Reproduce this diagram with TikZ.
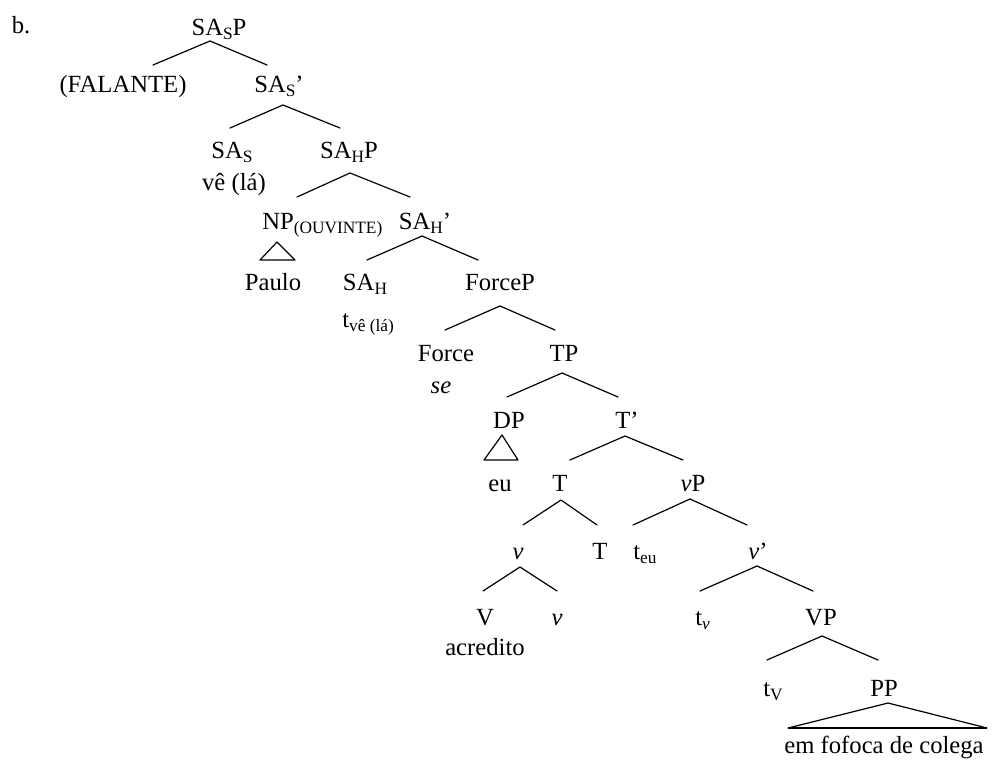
\documentclass[tikz,border=0pt]{standalone}
\usepackage{fontspec}
\setmainfont{Liberation Serif}
\newcommand{\sbs}[1]{\raisebox{-3pt}{\fontsize{13}{13}\selectfont #1}}
\begin{document}
\begin{tikzpicture}[x=0.75pt,y=-0.75pt,
  lab/.style={inner sep=0pt, anchor=base, font=\fontsize{18.5}{22}\selectfont},
  labw/.style={lab, anchor=base west},
  br/.style={line width=0.9pt, line cap=round, line join=round}]
\useasboundingbox (0,0) rectangle (992,760);
% labels
\node[lab] (b) at (21,33) {b.};
\node[lab] (SAsP) at (219,35) {SA\sbs{S}P};
\node[lab] (FAL) at (123,92) {(FALANTE)};
\node[lab] (SAsb) at (279,92) {SA\sbs{S}'};
\node[lab] (SAs) at (232,158) {SA\sbs{S}};
\node[lab] (ve) at (234,190) {vê (lá)};
\node[lab] (SAHP) at (349,158) {SA\sbs{H}P};
\node[labw] (NP) at (262,229) {NP\sbs{(OUVINTE)}};
\node[lab] (Paulo) at (273,290) {Paulo};
\node[lab] (SAHb) at (425,229) {SA\sbs{H}'};
\node[lab] (SAH) at (365,290) {SA\sbs{H}};
\node[labw] (tve) at (342,327) {t\sbs{vê (lá)}};
\node[lab] (ForceP) at (500,290) {ForceP};
\node[lab] (Force) at (446,361) {Force};
\node[lab] (se) at (441,393) {\textit{se}};
\node[lab] (TP) at (564,361) {TP};
\node[lab] (DP) at (509,428) {DP};
\node[lab] (eu) at (500,491) {eu};
\node[lab] (Tb) at (627,428) {T'};
\node[lab] (T) at (560,491) {T};
\node[lab] (vP) at (693,491) {\textit{v}P};
\node[lab] (v) at (518,559) {\textit{v}};
\node[lab] (T2) at (600,559) {T};
\node[labw] (teu) at (633,559) {t\sbs{eu}};
\node[lab] (vb) at (758,559) {\textit{v}'};
\node[lab] (V) at (485,625) {V};
\node[lab] (v2) at (557,625) {\textit{v}};
\node[lab] (acr) at (485,655) {acredito};
\node[labw] (tv) at (695,625) {t\sbs{\textit{v}}};
\node[lab] (VP) at (821,625) {VP};
\node[labw] (tV) at (763,696) {t\sbs{V}};
\node[lab] (PP) at (884,696) {PP};
\node[lab] (em) at (884,753) {em fofoca de colega};
% branch points
\coordinate (a1) at (210,41);  \coordinate (l1) at (153,65);  \coordinate (r1) at (267,65);
\coordinate (a2) at (283,105); \coordinate (l2) at (230,128); \coordinate (r2) at (340,128);
\coordinate (a3) at (350,173); \coordinate (l3) at (297,197); \coordinate (r3) at (410,197);
\coordinate (a4) at (422,236); \coordinate (l4) at (367,260); \coordinate (r4) at (478,260);
\coordinate (a5) at (500,306); \coordinate (l5) at (445,330); \coordinate (r5) at (555,330);
\coordinate (a6) at (562,373); \coordinate (l6) at (507,397); \coordinate (r6) at (618,397);
\coordinate (a7) at (625,436); \coordinate (l7) at (570,460); \coordinate (r7) at (683,460);
\coordinate (a8) at (561,500); \coordinate (l8) at (523,525); \coordinate (r8) at (597,525);
\coordinate (a9) at (690,499); \coordinate (l9) at (633,525); \coordinate (r9) at (747,525);
\coordinate (a10) at (520,567); \coordinate (l10) at (483,591); \coordinate (r10) at (557,591);
\coordinate (a11) at (757,566); \coordinate (l11) at (700,591); \coordinate (r11) at (813,591);
\coordinate (a12) at (822,636); \coordinate (l12) at (767,660); \coordinate (r12) at (878,660);
\foreach \i in {1,...,12} {\draw[br] (l\i) -- (a\i) -- (r\i);}
% triangles
\coordinate (ta1) at (277,242); \coordinate (tl1) at (260,260); \coordinate (tr1) at (295,260);
\draw[br] (ta1) -- (tl1) -- (tr1) -- cycle;
\coordinate (ta2) at (502,435); \coordinate (tl2) at (484,460); \coordinate (tr2) at (518,460);
\draw[br] (ta2) -- (tl2) -- (tr2) -- cycle;
\coordinate (ta3) at (888,703); \coordinate (tl3) at (788,728); \coordinate (tr3) at (987,728);
\draw[br] (tl3) -- (ta3) -- (tr3);
\draw[line width=1.6pt] (tl3) -- (tr3);
\end{tikzpicture}
\end{document}
